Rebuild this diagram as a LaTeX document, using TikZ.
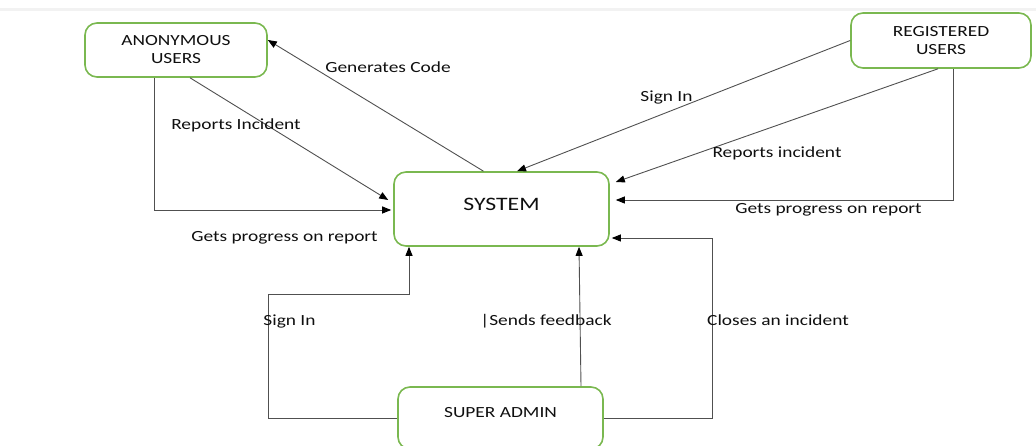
\documentclass[tikz,border=0pt]{standalone}
\usepackage{fontspec}
\setmainfont[FakeStretch=1.25]{Carlito}
\usetikzlibrary{arrows.meta}

\definecolor{boxgreen}{RGB}{122,184,80}
\definecolor{linegray}{RGB}{80,80,80}
\definecolor{txt}{RGB}{15,15,15}

\newcommand{\lblfont}{\fontsize{15.5}{18}\selectfont}

\begin{document}
\begin{tikzpicture}[x=1pt,y=-1pt,
    entity/.style={draw=boxgreen,line width=1.6pt,rounded corners=12pt,align=center,
        text=txt,inner sep=0pt,font=\lblfont},
    flow/.style={draw=linegray,line width=0.9pt,-{Triangle[length=9pt,width=7pt,color=black]}},
    lbl/.style={anchor=base,inner sep=0pt,text=txt,font=\lblfont}]
    \useasboundingbox (0,0) rectangle (1036,446);
    \fill[gray!10] (0,8) rectangle (1036,11);

    % the four boxes
    \node[entity,minimum width=182pt,minimum height=54pt] (anon) at (176,50) {ANONYMOUS\\USERS};
    \node[entity,minimum width=180pt,minimum height=55pt] (reg) at (941,40.5) {REGISTERED\\USERS};
    \node[entity,minimum width=215pt,minimum height=74pt,font=\fontsize{19}{22}\selectfont] (sys) at (501.5,209)
        {\raisebox{5pt}[\height][\depth]{SYSTEM}};
    \node[entity,minimum width=205pt,minimum height=62pt] (admin) at (500.5,418)
        {\raisebox{5.5pt}[\height][\depth]{SUPER ADMIN}};

    % anonymous users
    \draw[flow] ([xshift=-18pt]sys.north) -- ([yshift=10pt]anon.east);
    \draw[flow] ([xshift=14pt]anon.south) -- ([xshift=-5pt,yshift=9pt]sys.west);
    \draw[flow] ([xshift=-22pt]anon.south) |- ([xshift=-2pt,yshift=-1pt]sys.west);
    \node[lbl] (lblgen) at (388,73) {Generates Code};
    \node[lbl] (lblrepa) at (236,130) {Reports Incident};
    \node[lbl] (lblproga) at (284.5,242) {Gets progress on report};

    % registered users
    \draw[flow] (reg.west) -- ([xshift=15.5pt]sys.north);
    \draw[flow] ([xshift=-3pt]reg.south) -- ([xshift=6pt,yshift=27pt]sys.east);
    \draw[flow] ([xshift=12pt]reg.south) |- ([xshift=6pt,yshift=9pt]sys.east);
    \node[lbl] (lblsignr) at (666.5,102) {Sign In};
    \node[lbl] (lblrepr) at (777,158) {Reports incident};
    \node[lbl] (lblprogr) at (828.5,214) {Gets progress on report};

    % super admin
    \draw[flow] (admin.west) -- ++(-129,0) -- ++(0,-124) -| ([xshift=-92.5pt]sys.south);
    \draw[flow] ([xshift=80.5pt]admin.north) -- ([xshift=77.5pt]sys.south);
    \draw[flow] (admin.east) -- ++(109,0) |- ([xshift=2pt,yshift=-29pt]sys.east);
    \node[lbl] (lblsigna) at (289.5,326) {Sign In};
    \node[lbl] (lblfeed) at (546,326) {|Sends feedback};
    \node[lbl] (lblclose) at (778,326) {Closes an incident};
\end{tikzpicture}
\end{document}
